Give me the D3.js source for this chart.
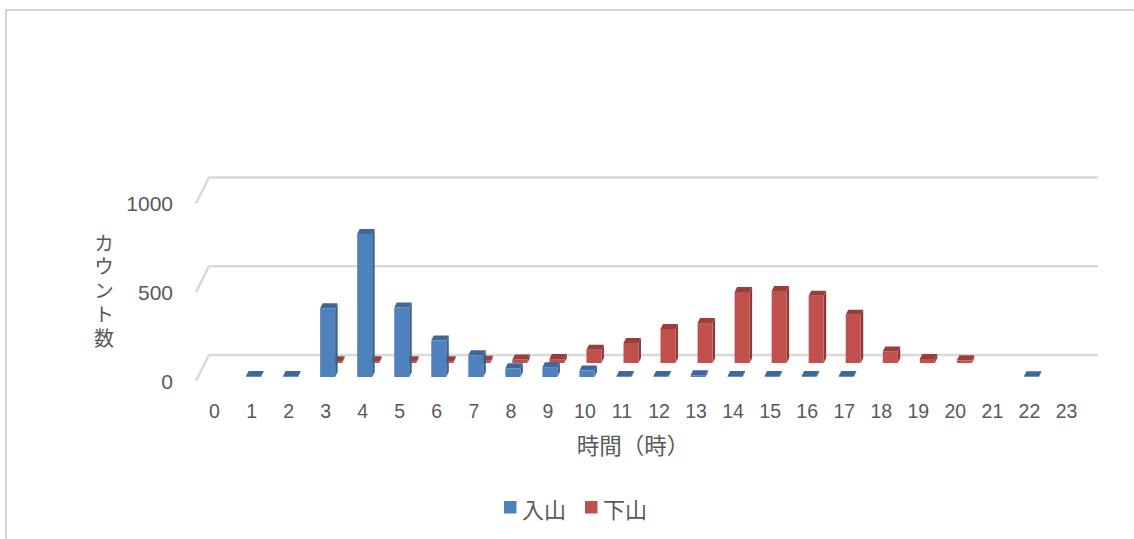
<!DOCTYPE html>
<html>
<head>
<meta charset="utf-8">
<script src="https://cdn.jsdelivr.net/npm/d3@7"></script>
<style>
  html, body { margin: 0; padding: 0; background: #fff; }
  svg { display: block; }
  text { fill: #595959; }
</style>
</head>
<body>
<svg id="chart" width="1134" height="539"></svg>
<script>
// Hourly counts: climbers going up (入山) and coming down (下山)
const hours = d3.range(0, 24).map(String);
const seriesNames = ["入山", "下山"];
const inCounts  = [null, 5, 5, 387, 805, 392, 205, 122, 49, 55, 36, 5, 5, 10, 5, 5, 5, 5, null, null, null, null, 4, null];
const outCounts = [null, null, null, 10, 10, 10, 10, 12, 20, 22, 75, 113, 192, 225, 400, 405, 379, 272, 65, 23, 15, null, null, null];
const yTicks = [0, 500, 1000];
const colors = {
  "入山": { front: "#4f81bd", side: "#39608f", top: "#3d6899" },
  "下山": { front: "#c0504d", side: "#8e3a38", top: "#9a3d3b" }
};

const svg = d3.select("#chart");

// Chart area frame
svg.append("path")
  .attr("d", "M6,539 V10 H1134")
  .attr("fill", "none")
  .attr("stroke", "#c6c6c6")
  .attr("stroke-width", 1.5);

// Oblique 3D projection: depth runs up and to the right
const floorFrontY = 381;
const wallDepth = 26;           // vertical offset from front edge to back wall
const skew = 0.5;               // horizontal shift per unit of depth
const x = d3.scaleBand().domain(hours).range([196, 1085]);
const h = d3.scaleLinear().domain([0, 1000]).range([0, 177.5]);
// depth of each series row (front face), measured from the floor's front edge
const depth = d3.scaleOrdinal().domain(seriesNames).range([4, 18]);
const barDepth = 5;
const barWidth = 15;

function project(px, d, v) {
  return [px + d * skew, floorFrontY - d - h(v)];
}

// Gridlines: back wall + left side wall
const grid = svg.append("g").attr("fill", "none").attr("stroke", "#d9d9d9").attr("stroke-width", 2.5);
yTicks.forEach(v => {
  const a = project(x.range()[0], 0, v);
  const b = project(x.range()[0], wallDepth, v);
  const c = project(x.range()[1], wallDepth, v);
  grid.append("path").attr("d", `M${a[0]},${a[1]} L${b[0]},${b[1]} L${c[0]},${c[1]}`)
    .attr("stroke-linejoin", "round");
});

// Value axis labels
svg.append("g").selectAll("text").data(yTicks).join("text")
  .attr("x", 173)
  .attr("y", v => floorFrontY - h(v))
  .attr("text-anchor", "end")
  .attr("dominant-baseline", "central")
  .attr("font-family", "Liberation Sans, Arial, sans-serif")
  .attr("font-size", 21)
  .text(d => d);

// 3D columns, back row first
function drawSeries(name, values) {
  const d0 = depth(name);
  const d1 = d0 + barDepth;
  const col = colors[name];
  const g = svg.append("g");
  hours.forEach((hr, i) => {
    const v = values[i];
    if (v === null) return;
    const cx = x(hr) + x.bandwidth() / 2;
    const xl = cx - barWidth / 2, xr = cx + barWidth / 2;
    const fbl = project(xl, d0, 0), fbr = project(xr, d0, 0);
    const ftl = project(xl, d0, v), ftr = project(xr, d0, v);
    const bbr = project(xr, d1, 0);
    const btl = project(xl, d1, v), btr = project(xr, d1, v);
    const poly = pts => "M" + pts.map(p => p.join(",")).join("L") + "Z";
    g.append("path").attr("d", poly([fbr, bbr, btr, ftr])).attr("fill", col.side);
    g.append("path").attr("d", poly([fbl, fbr, ftr, ftl])).attr("fill", col.front);
    g.append("path").attr("d", poly([ftl, ftr, btr, btl])).attr("fill", col.top);
  });
}
drawSeries("下山", outCounts);
drawSeries("入山", inCounts);

// Category axis labels
svg.append("g").selectAll("text").data(hours).join("text")
  .attr("x", d => x(d) + x.bandwidth() / 2)
  .attr("y", 411)
  .attr("text-anchor", "middle")
  .attr("dominant-baseline", "central")
  .attr("font-family", "Liberation Sans, Arial, sans-serif")
  .attr("font-size", 19.5)
  .text(d => d);

// Axis titles
svg.append("text")
  .attr("x", 633).attr("y", 444)
  .attr("text-anchor", "middle")
  .attr("dominant-baseline", "central")
  .attr("font-family", "Noto Sans CJK JP, sans-serif")
  .attr("font-size", 22.5)
  .text("時間（時）");

// Vertical value-axis title, stacked characters
svg.append("text")
  .attr("x", 104)
  .attr("y", 233)
  .attr("writing-mode", "vertical-rl")
  .style("text-orientation", "upright")
  .attr("letter-spacing", 3.75)
  .attr("font-family", "Noto Sans CJK JP, sans-serif")
  .attr("font-size", 20)
  .text("カウント数");

// Legend
const legendItems = [
  { name: "入山", x: 504 },
  { name: "下山", x: 585 }
];
const lg = svg.append("g");
legendItems.forEach(it => {
  lg.append("rect").attr("x", it.x).attr("y", 501).attr("width", 12.5).attr("height", 12.5)
    .attr("fill", colors[it.name].front);
  lg.append("text").attr("x", it.x + 18).attr("y", 508)
    .attr("dominant-baseline", "central")
    .attr("font-family", "Noto Sans CJK JP, sans-serif")
    .attr("font-size", 22)
    .text(it.name);
});
</script>
</body>
</html>
